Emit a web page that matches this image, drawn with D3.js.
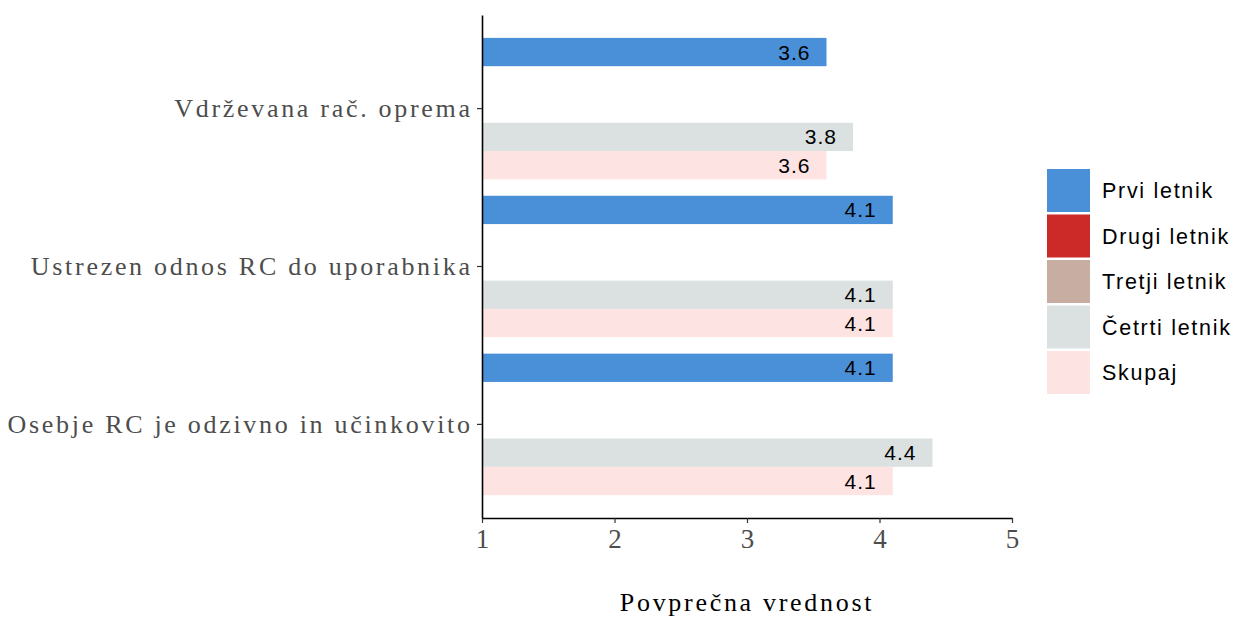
<!DOCTYPE html>
<html>
<head>
<meta charset="utf-8">
<script src="https://cdn.jsdelivr.net/npm/d3@7"></script>
<style>
  body { margin: 0; background: #fff; }
  svg text { font-family: "Liberation Serif", "DejaVu Serif", serif; }
</style>
</head>
<body>
<div id="chart"></div>
<script>
// data
var categories = ["Vdrževana rač. oprema", "Ustrezen odnos RC do uporabnika", "Osebje RC je odzivno in učinkovito"];
var groups = ["Prvi letnik", "Drugi letnik", "Tretji letnik", "Četrti letnik", "Skupaj"];
var colors = ["#4A90D9", "#CC2929", "#C8ADA3", "#DAE1E0", "#FDE3E1"];
var prvi = [3.6, 4.1, 4.1];
var cetrti = [3.8, 4.1, 4.4];
var skupaj = [3.6, 4.1, 4.1];
var xTicks = [1, 2, 3, 4, 5];

var W = 1235, H = 619;
var margin = {top: 15, right: 223, bottom: 101, left: 482};
var width = W - margin.left - margin.right,
    height = H - margin.top - margin.bottom;

var serifLS = 2.7;   // mimic the wide CM spacing
var sansLS = 1.7;

var svg = d3.select("#chart").append("svg")
    .attr("width", W)
    .attr("height", H);
var g = svg.append("g")
    .attr("transform", "translate(" + margin.left + "," + margin.top + ")");

var x = d3.scaleLinear().domain([1, 5]).range([0, width]);
var y = d3.scaleBand().domain(categories).range([0, height]).paddingInner(0.104).paddingOuter(0.145);
var yInner = d3.scaleBand().domain(groups).range([0, y.bandwidth()]);

// build rows
var rows = [];
categories.forEach(function (c, i) {
    rows.push({cat: c, grp: "Prvi letnik", v: prvi[i]});
    rows.push({cat: c, grp: "Četrti letnik", v: cetrti[i]});
    rows.push({cat: c, grp: "Skupaj", v: skupaj[i]});
});
var color = d3.scaleOrdinal().domain(groups).range(colors);

g.selectAll("rect.bar")
    .data(rows)
    .enter().append("rect")
    .attr("class", "bar")
    .attr("x", x(1))
    .attr("y", function (d) { return y(d.cat) + yInner(d.grp); })
    .attr("width", function (d) { return x(d.v) - x(1); })
    .attr("height", yInner.bandwidth())
    .attr("fill", function (d) { return color(d.grp); });

g.selectAll("text.lab")
    .data(rows)
    .enter().append("text")
    .attr("class", "lab")
    .attr("x", function (d) { return x(d.v) - 17 + 1; })
    .attr("y", function (d) { return y(d.cat) + yInner(d.grp) + yInner.bandwidth() / 2; })
    .attr("dy", "0.36em")
    .attr("text-anchor", "end")
    .style("font-family", "'Liberation Sans', Arial, sans-serif")
    .style("font-size", "21px")
    .style("letter-spacing", "1px")
    .attr("fill", "#000")
    .text(function (d) { return d.v.toFixed(1); });

// axes
var xAxis = g.append("g")
    .attr("transform", "translate(0," + height + ")")
    .call(d3.axisBottom(x).tickValues(xTicks).tickSize(5).tickSizeOuter(0).tickPadding(6).tickFormat(d3.format("d")));
xAxis.select(".domain").attr("stroke", "#000").attr("stroke-width", 1.6);
xAxis.selectAll(".tick line").attr("stroke", "#333").attr("stroke-width", 1.2);
xAxis.selectAll(".tick text")
    .style("font-family", "'Liberation Serif', serif")
    .style("font-size", "27px")
    .attr("fill", "#4D4D4D");

var yAxis = g.append("g")
    .call(d3.axisLeft(y).tickSize(5).tickSizeOuter(0).tickPadding(7));
yAxis.select(".domain").attr("stroke", "#000").attr("stroke-width", 1.6);
yAxis.selectAll(".tick line").attr("stroke", "#333").attr("stroke-width", 1.2);
yAxis.selectAll(".tick text")
    .attr("dx", serifLS)
    .style("font-family", "'Liberation Serif', serif")
    .style("font-size", "26px")
    .style("letter-spacing", serifLS + "px")
    .attr("fill", "#4D4D4D");

// axis title
svg.append("text")
    .attr("x", margin.left + width / 2)
    .attr("y", 611)
    .attr("text-anchor", "middle")
    .style("font-family", "'Liberation Serif', serif")
    .style("font-size", "26px")
    .style("letter-spacing", serifLS + "px")
    .attr("fill", "#000")
    .text("Povprečna vrednost");

// legend
var legend = svg.append("g").attr("transform", "translate(1047,169)");
var li = legend.selectAll("g")
    .data(groups)
    .enter().append("g")
    .attr("transform", function (d, i) { return "translate(0," + i * 45.5 + ")"; });
li.append("rect")
    .attr("width", 43)
    .attr("height", 43)
    .attr("fill", function (d) { return color(d); });
li.append("text")
    .attr("x", 55)
    .attr("y", 21.5)
    .attr("dy", "0.36em")
    .style("font-family", "'Liberation Sans', Arial, sans-serif")
    .style("font-size", "21.5px")
    .style("letter-spacing", sansLS + "px")
    .attr("fill", "#000")
    .text(function (d) { return d; });
</script>
</body>
</html>
